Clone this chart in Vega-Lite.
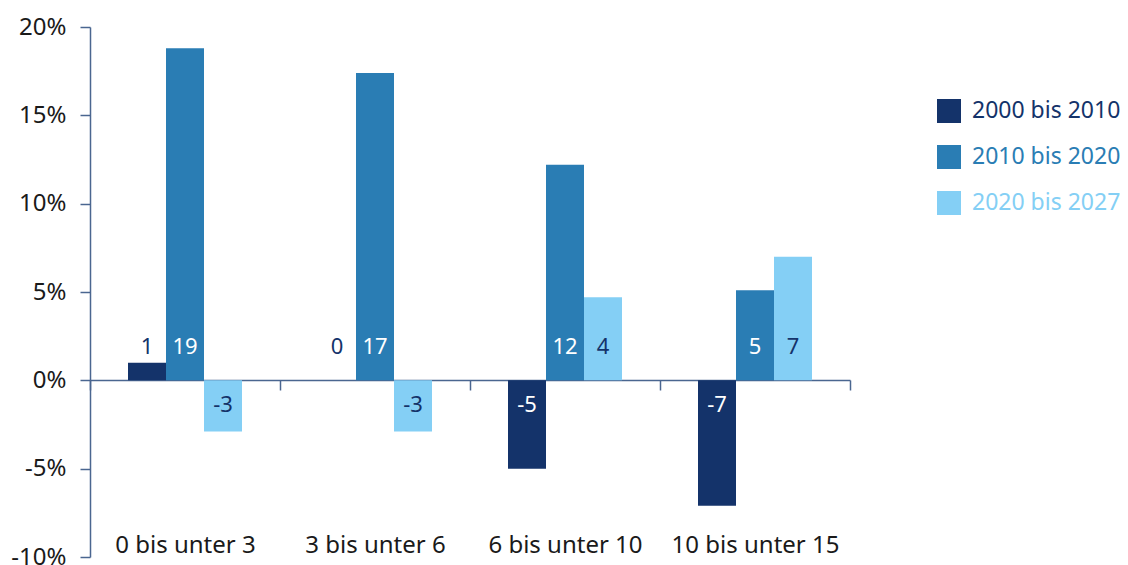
{
  "$schema": "https://vega.github.io/schema/vega-lite/v6.json",
  "width": 760,
  "height": 530,
  "autosize": {"type": "none"},
  "padding": {"left": 90, "top": 27, "right": 278, "bottom": 8},
  "config": {"view": {"stroke": null}, "font": "Noto Sans"},
  "data": {
    "values": [
      {"category": "0 bis unter 3", "series": "2000 bis 2010", "value": 1.0, "label": "1"},
      {"category": "0 bis unter 3", "series": "2010 bis 2020", "value": 18.8, "label": "19"},
      {"category": "0 bis unter 3", "series": "2020 bis 2027", "value": -2.9, "label": "-3"},
      {"category": "3 bis unter 6", "series": "2000 bis 2010", "value": 0, "label": "0"},
      {"category": "3 bis unter 6", "series": "2010 bis 2020", "value": 17.4, "label": "17"},
      {"category": "3 bis unter 6", "series": "2020 bis 2027", "value": -2.9, "label": "-3"},
      {"category": "6 bis unter 10", "series": "2000 bis 2010", "value": -5.0, "label": "-5"},
      {"category": "6 bis unter 10", "series": "2010 bis 2020", "value": 12.2, "label": "12"},
      {"category": "6 bis unter 10", "series": "2020 bis 2027", "value": 4.7, "label": "4"},
      {"category": "10 bis unter 15", "series": "2000 bis 2010", "value": -7.1, "label": "-7"},
      {"category": "10 bis unter 15", "series": "2010 bis 2020", "value": 5.1, "label": "5"},
      {"category": "10 bis unter 15", "series": "2020 bis 2027", "value": 7.0, "label": "7"}
    ]
  },
  "encoding": {
    "x": {
      "field": "category",
      "type": "nominal",
      "sort": ["0 bis unter 3", "3 bis unter 6", "6 bis unter 10", "10 bis unter 15"],
      "scale": {"paddingInner": 0, "paddingOuter": 0},
      "axis": {
        "title": null,
        "orient": "bottom",
        "offset": -177,
        "tickBand": "extent",
        "tickSize": 10,
        "tickWidth": 1.5,
        "tickColor": "#4a6690",
        "domainColor": "#4a6690",
        "domainWidth": 1.5,
        "labelPadding": 162,
        "labelBaseline": "alphabetic",
        "labelFontSize": 24,
        "labelFont": "Noto Sans",
        "labelColor": "#1a1a1a",
        "labelAngle": 0
      }
    },
    "xOffset": {
      "field": "series",
      "type": "nominal",
      "sort": ["2000 bis 2010", "2010 bis 2020", "2020 bis 2027"],
      "scale": {"paddingInner": 0, "paddingOuter": 1}
    }
  },
  "layer": [
    {
      "mark": {"type": "bar"},
      "encoding": {
        "y": {
          "field": "value",
          "type": "quantitative",
          "scale": {"domain": [-10, 20], "nice": false, "zero": false},
          "axis": {
            "title": null,
            "values": [-10, -5, 0, 5, 10, 15, 20],
            "labelExpr": "datum.value + '%'",
            "tickSize": 10,
            "tickWidth": 1.5,
            "labelPadding": 14,
            "labelFontSize": 24,
            "labelFont": "Noto Sans",
            "labelColor": "#1a1a1a",
            "domainColor": "#4a6690",
            "tickColor": "#4a6690",
            "domainWidth": 1.5,
            "grid": false
          }
        },
        "color": {
          "field": "series",
          "type": "nominal",
          "sort": ["2000 bis 2010", "2010 bis 2020", "2020 bis 2027"],
          "scale": {"domain": ["2000 bis 2010", "2010 bis 2020", "2020 bis 2027"], "range": ["#14336a", "#2a7db4", "#84cff5"]},
          "legend": {
            "title": null,
            "orient": "none",
            "legendX": 847,
            "legendY": 72,
            "symbolType": "square",
            "symbolSize": 576,
            "symbolStrokeWidth": 0,
            "symbolOpacity": 1,
            "labelFontSize": 23,
            "labelFont": "Noto Sans",
            "labelOffset": 11,
            "rowPadding": 22,
            "padding": 0,
            "labelLimit": 300,
            "encode": {"labels": {"update": {"fill": {"scale": "color", "field": "value"}}}}
          }
        }
      }
    },
    {
      "transform": [{"filter": "datum.value >= 0"}],
      "mark": {"type": "text", "baseline": "alphabetic", "fontSize": 22, "font": "Noto Sans"},
      "encoding": {
        "y": {"datum": 1.5},
        "text": {"field": "label"},
        "color": {
          "condition": {"test": "datum.series == '2020 bis 2027' || abs(datum.value) < 2", "value": "#14336a"},
          "value": "#ffffff"
        }
      }
    },
    {
      "transform": [{"filter": "datum.value < 0"}],
      "mark": {"type": "text", "baseline": "alphabetic", "fontSize": 22, "font": "Noto Sans"},
      "encoding": {
        "y": {"datum": -1.8},
        "text": {"field": "label"},
        "color": {
          "condition": {"test": "datum.series == '2020 bis 2027' || abs(datum.value) < 2", "value": "#14336a"},
          "value": "#ffffff"
        }
      }
    }
  ]
}
